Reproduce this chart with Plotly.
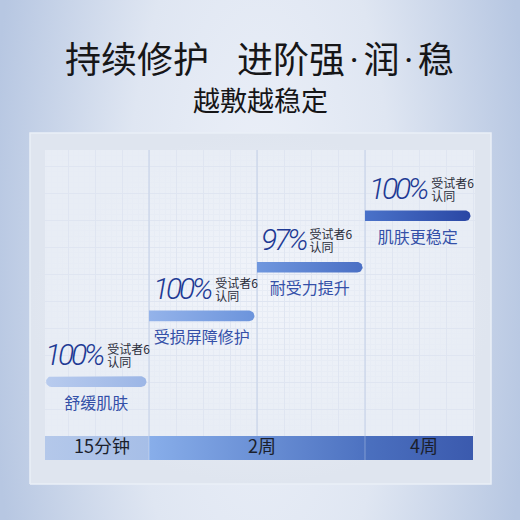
import numpy as np
import plotly.graph_objects as go

# ---------------- data ----------------
stages = ["舒缓肌肤", "受损屏障修护", "耐受力提升", "肌肤更稳定"]
approval_pct = [100, 100, 97, 100]
stage_height = [19, 42, 59, 77]          # bar level on a 0-100 stage scale
note_line1 = "受试者6"
note_line2 = "认同"
time_labels = ["15分钟", "2周", "4周"]
time_start = [0, 1, 3]
time_end = [1, 3, 4]
title_left = "持续修护"
title_words = ["进阶强", "润", "稳"]
subtitle_text = "越敷越稳定"

# ---------------- style / layout constants ----------------
W = H = 520
COL_PX = 108.0      # px per stage column
X0_PX = 41.0        # px position of column 0
Y0_PX = 436.0       # px (from top) of stage level 0
Y_PX = 2.86         # px per stage unit
GRID = (45, 475, 150, 436)     # left, right, top, bottom (px)
PANEL = (30, 491, 133, 484)

bar_colors = [("#b8cbee", "#9cb6e6"), ("#94b3ea", "#6c94dc"),
              ("#6f97de", "#4a6fc4"), ("#4a72c9", "#2a47a4")]
seg_colors = [("#b4c8ea", "#a6bee7"), ("#88aeea", "#4d72c1"), ("#4b70bf", "#3b5aae")]
PCT_FONT = "Roboto, sans-serif"
PCT_SIZE = 30
PCT_LS = -3.2       # letter spacing (px) of the percentage figures
CJK = "Noto Sans CJK SC, sans-serif"


def ux(px):
    return (px - X0_PX) / COL_PX


def uy(py):
    return (Y0_PX - py) / Y_PX


def dx(px):
    return px / COL_PX


def dy(px):
    return px / Y_PX


def rect(x0, x1, y0, y1):
    return [x0, x1, x1, x0, x0], [y0, y0, y1, y1, y0]


def bar_outline(x0, x1, yc, r, round_left):
    t = np.linspace(-np.pi / 2, np.pi / 2, 17)
    cx = x1 - dx(r)
    xs = list(cx + dx(r) * np.cos(t))
    ys = list(yc + dy(r) * np.sin(t))
    if round_left:
        t2 = np.linspace(np.pi / 2, 3 * np.pi / 2, 17)
        cxl = x0 + dx(r)
        xs += list(cxl + dx(r) * np.cos(t2))
        ys += list(yc + dy(r) * np.sin(t2))
    else:
        xs += [x0, x0]
        ys += [yc + dy(r), yc - dy(r)]
    xs.append(xs[0])
    ys.append(ys[0])
    return xs, ys


def pct_width(s, size, ls):
    w = 0
    for ch in s:
        w += (0.56 if ch.isdigit() else 0.72) * size + ls
    return w


fig = go.Figure()
XR = [ux(0), ux(W)]
YR = [uy(H), uy(0)]

# background (radial glow, extended vertically so the centre band stays light)
bx, by = rect(ux(-10), ux(W + 10), uy(H * 2), uy(-H))
fig.add_trace(go.Scatter(x=bx, y=by, mode="lines", fill="toself", line=dict(width=0),
                         fillgradient=dict(type="radial",
                                           colorscale=[[0, "#edf1f9"], [0.5, "#dfe6f2"], [1, "#b7c7e2"]]),
                         hoverinfo="skip", showlegend=False))
# panel
px_, py_ = rect(ux(PANEL[0]), ux(PANEL[1]), uy(PANEL[3]), uy(PANEL[2]))
fig.add_trace(go.Scatter(x=px_, y=py_, mode="lines", fill="toself",
                         line=dict(width=1.5, color="#eaeff7"),
                         fillgradient=dict(type="radial",
                                           colorscale=[[0, "#edf1f8"], [1, "#dfe5ef"]]),
                         hoverinfo="skip", showlegend=False))
# grid area
gx, gy = rect(ux(GRID[0]), ux(GRID[1]), uy(GRID[3]), uy(GRID[2]))
fig.add_trace(go.Scatter(x=gx, y=gy, mode="lines", fill="toself", line=dict(width=0),
                         fillgradient=dict(type="radial",
                                           colorscale=[[0, "#f1f4fa"], [1, "#e8edf5"]]),
                         hoverinfo="skip", showlegend=False))

# time bar segments
for k, (lab, s, e) in enumerate(zip(time_labels, time_start, time_end)):
    x0 = max(s, ux(GRID[0]))
    sx, sy = rect(x0, e, uy(GRID[3] + 24), 0)
    fig.add_trace(go.Scatter(x=sx, y=sy, mode="lines", fill="toself", line=dict(width=0),
                             fillgradient=dict(type="horizontal",
                                               colorscale=[[0, seg_colors[k][0]], [1, seg_colors[k][1]]]),
                             hoverinfo="skip", showlegend=False))
    if k > 0:
        fig.add_trace(go.Scatter(x=[s, s], y=[0, uy(GRID[3] + 24)], mode="lines",
                                 line=dict(width=1, color="rgba(255,255,255,0.3)"),
                                 hoverinfo="skip", showlegend=False))
fig.add_trace(go.Scatter(
    x=[(max(s, ux(GRID[0])) + e) / 2 + dx(5) for s, e in zip(time_start, time_end)],
    y=[uy(GRID[3] + 12)] * len(time_labels), mode="text", text=time_labels,
    textposition="middle center", textfont=dict(family=CJK, size=18, color="#1b1f2c"),
    hoverinfo="skip", showlegend=False, cliponaxis=False))

# ---- subplot 2: grid + stages ----
n = len(stages)
for i in range(1, n):
    fig.add_trace(go.Scatter(x=[i, i], y=[0, 100], mode="lines", xaxis="x2", yaxis="y2",
                             line=dict(width=1.2, color="#c9d4ea"),
                             hoverinfo="skip", showlegend=False))

BAR_R = 5.3
for i, (lab, p, h) in enumerate(zip(stages, approval_pct, stage_height)):
    x0 = max(i, ux(GRID[0]) + dx(1))
    x1 = i + 1 - dx(2.5)
    bx_, by_ = bar_outline(x0, x1, h, BAR_R, round_left=(i == 0))
    fig.add_trace(go.Scatter(x=bx_, y=by_, mode="lines", fill="toself", line=dict(width=0),
                             xaxis="x2", yaxis="y2",
                             fillgradient=dict(type="horizontal",
                                               colorscale=[[0, bar_colors[i][0]], [1, bar_colors[i][1]]]),
                             hoverinfo="skip", showlegend=False))
    ptxt = f"{p}%"
    pl = i + dx(4)
    fig.add_trace(go.Scatter(x=[pl], y=[h + dy(24.5)], mode="text",
                             text=[f"<span style='letter-spacing:{PCT_LS}px'>{ptxt}</span>"],
                             xaxis="x2", yaxis="y2", textposition="middle right",
                             textfont=dict(family=PCT_FONT, size=PCT_SIZE, color="#1e3a94",
                                           style="italic", weight=300),
                             hoverinfo="skip", showlegend=False, cliponaxis=False))
    nx = pl + dx(pct_width(ptxt, PCT_SIZE, PCT_LS) + 3)
    fig.add_trace(go.Scatter(x=[nx, nx], y=[h + dy(31), h + dy(18)], mode="text",
                             text=[note_line1, note_line2], xaxis="x2", yaxis="y2",
                             textposition="middle right",
                             textfont=dict(family=CJK, size=12, color="#2a2d3a"),
                             hoverinfo="skip", showlegend=False, cliponaxis=False))
    fig.add_trace(go.Scatter(x=[(x0 + x1) / 2], y=[h - dy(23)], mode="text", text=[lab],
                             xaxis="x2", yaxis="y2", textposition="middle center",
                             textfont=dict(family=CJK, size=16, color="#3450a8"),
                             hoverinfo="skip", showlegend=False, cliponaxis=False))

sp = "<span style='font-family:Roboto;font-size:18px'> </span>"
dot = sp + "<span style='font-family:Roboto'>·</span>" + sp
gap = "<span style='font-size:28px'>\u3000</span>"
title_html = title_left + gap + dot.join(title_words)
fig.add_annotation(x=259 / W, y=1 - 57 / H, xref="paper", yref="paper", text=title_html,
                   showarrow=False, xanchor="center", yanchor="middle",
                   font=dict(family=CJK, size=36, color="#161618"))
fig.add_annotation(x=260 / W, y=1 - 99 / H, xref="paper", yref="paper", text=subtitle_text,
                   showarrow=False, xanchor="center", yanchor="middle",
                   font=dict(family=CJK, size=27, color="#161618"))

noax = dict(showticklabels=False, zeroline=False, showline=False, ticks="")
fig.update_layout(
    width=W, height=H, margin=dict(l=0, r=0, t=0, b=0),
    paper_bgcolor="#c4d1e7", plot_bgcolor="rgba(0,0,0,0)",
    xaxis=dict(range=XR, domain=[0, 1], showgrid=False, fixedrange=True, **noax),
    yaxis=dict(range=YR, domain=[0, 1], showgrid=False, fixedrange=True, **noax),
    xaxis2=dict(range=[ux(GRID[0]), ux(GRID[1])], domain=[GRID[0] / W, GRID[1] / W],
                anchor="y2", showgrid=True, tick0=0, dtick=dx(27), gridcolor="#dfe5f1",
                gridwidth=1, minor=dict(showgrid=True, tick0=0, dtick=dx(5.4), gridcolor="#e7ecf5"),
                fixedrange=True, **noax),
    yaxis2=dict(range=[0, uy(GRID[2])], domain=[1 - GRID[3] / H, 1 - GRID[2] / H],
                anchor="x2", showgrid=True, tick0=0, dtick=dy(27), gridcolor="#dfe5f1",
                gridwidth=1, minor=dict(showgrid=True, tick0=0, dtick=dy(5.4), gridcolor="#e7ecf5"),
                fixedrange=True, **noax),
    showlegend=False,
)

fig.write_html("out.html", config={"displayModeBar": False},
               post_script="document.body.style.margin='0';document.body.style.padding='0';")
